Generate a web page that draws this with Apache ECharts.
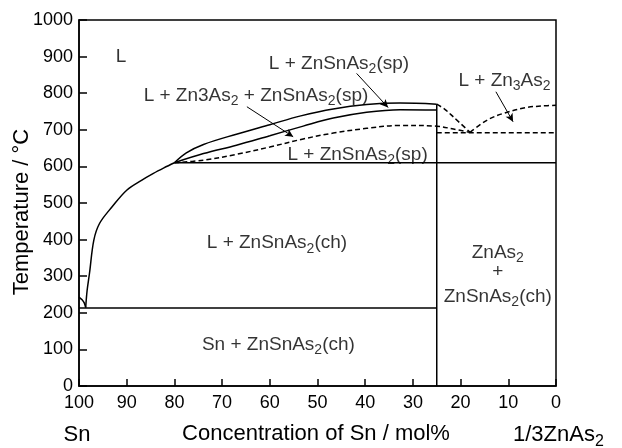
<!DOCTYPE html>
<html>
<head>
    <meta charset="utf-8">
    <title>Sn - 1/3ZnAs2 phase diagram</title>
    <script src="https://cdnjs.cloudflare.com/ajax/libs/echarts/6.0.0/echarts.min.js"></script>
    <style>
        body { margin: 0; background: #fff; }
        #chart_div { width: 622px; height: 448px; }
    </style>
</head>
<body>
    <div id="chart_div"></div>

    <script>
        // phase boundaries, [Sn mol%, temperature °C]
        const snArc = [[100, 243], [99.4, 236], [98.9, 227], [98.6, 214]];
        const liquidus = [[98.6, 214], [98.3, 261], [97.8, 308], [96.9, 398], [95.7, 444], [93.1, 489],
            [90, 535], [86.9, 562], [84.4, 581], [82.2, 596], [80, 610]];
        const upperCurve = [[80, 610], [77.5, 637], [73.9, 660], [67, 688], [60, 714], [53.5, 738],
            [46.7, 757], [39.7, 769], [32.7, 773], [25, 770]];
        const middleCurve = [[80, 610], [73.9, 635], [67, 658], [60, 684], [53, 710], [46.7, 732],
            [39.7, 748], [32.7, 755], [25, 754]];
        const lowerDashed = [[80, 610], [73.9, 617], [67, 633], [60, 653], [53, 675], [46.7, 691],
            [39.7, 704], [32.7, 712], [25, 710], [21.5, 702], [18, 693]];
        const zn3As2Left = [[25, 770], [23.3, 756], [21.5, 735], [18, 693]];
        const zn3As2Right = [[18, 693], [14.5, 726], [11, 745], [6.2, 761], [3, 765], [0, 767]];
        const dashed692 = [[25, 692], [0, 692]];
        const line610 = [[80, 610], [0, 610]];
        const eutectic213 = [[100, 213], [25, 213]];
        const compoundLine = [[25, 0], [25, 770]];

        // phase field labels: [Sn mol%, temperature, text]
        const phaseLabels = [
            [91.2, 899, '{m|L}'],
            [45.5, 880, '{m|L + ZnSnAs}{s|2}{m|(sp)}'],
            [62.9, 792, '{m|L + Zn3As}{s|2}{m| + ZnSnAs}{s|2}{m|(sp)}'],
            [10.8, 833, '{m|L + Zn}{s|3}{m|As}{s|2}'],
            [41.6, 633, '{m|L + ZnSnAs}{s|2}{m|(sp)}'],
            [58.5, 390, '{m|L + ZnSnAs}{s|2}{m|(ch)}'],
            [58.2, 114, '{m|Sn + ZnSnAs}{s|2}{m|(ch)}'],
            [12.2, 365, '{m|ZnAs}{s|2}'],
            [12.2, 311, '{m|+}'],
            [12.2, 245, '{m|ZnSnAs}{s|2}{m|(ch)}']
        ];
        // arrows from label to field
        const arrows = [
            [[41.8, 854], [35.2, 761]],
            [[64.8, 763], [55.1, 681]],
            [[12.6, 804], [9.0, 722]]
        ];

        const font = '"Liberation Sans", Arial, sans-serif';
        const richText = {
            m: { fontSize: 19, fontFamily: font, color: '#000' },
            s: { fontSize: 14, fontFamily: font, color: '#000', padding: [11, 0, 0, 0] }
        };

        function boundary(data, dashed, smooth) {
            return {
                type: 'line',
                data: data,
                showSymbol: false,
                symbol: 'none',
                smooth: smooth ? 0.35 : false,
                silent: true,
                lineStyle: { color: '#000', width: 1.5, type: dashed ? [5, 3] : 'solid' }
            };
        }

        const myChart = echarts.init(document.getElementById('chart_div'));

        const option = {
            animation: false,
            grid: {
                left: 79, right: 66, top: 20, bottom: 62,
                show: true, borderColor: '#000', borderWidth: 1.5
            },
            xAxis: {
                type: 'value',
                min: 0, max: 100, interval: 10,
                inverse: true,
                splitLine: { show: false },
                axisLine: { onZero: false, lineStyle: { color: '#000', width: 1.5 } },
                axisTick: { inside: true, length: 7, lineStyle: { color: '#000', width: 1.5 } },
                axisLabel: { color: '#000', fontSize: 18, fontFamily: font, margin: 8 }
            },
            yAxis: {
                type: 'value',
                min: 0, max: 1000, interval: 100,
                splitLine: { show: false },
                axisLine: { onZero: false, lineStyle: { color: '#000', width: 1.5 } },
                axisTick: { inside: true, length: 8, lineStyle: { color: '#000', width: 1.5 } },
                axisLabel: { color: '#000', fontSize: 18, fontFamily: font, margin: 6,
                    formatter: v => String(v) }
            },
            graphic: [
                {
                    type: 'text', x: 22, y: 212, rotation: Math.PI / 2,
                    style: { text: 'Temperature / °C', fontSize: 22, fontFamily: font, fill: '#000',
                        align: 'center', verticalAlign: 'middle' }
                },
                {
                    type: 'text', x: 77, y: 435,
                    style: { text: 'Sn', fontSize: 22, fontFamily: font, fill: '#000',
                        align: 'center', verticalAlign: 'middle' }
                },
                {
                    type: 'text', x: 316, y: 434,
                    style: { text: 'Concentration of Sn / mol%', fontSize: 22, fontFamily: font, fill: '#000',
                        align: 'center', verticalAlign: 'middle' }
                },
                {
                    type: 'text', x: 513, y: 435,
                    style: {
                        text: '{m|1/3ZnAs}{s|2}', align: 'left', verticalAlign: 'middle',
                        rich: {
                            m: { fontSize: 22, fontFamily: font, fill: '#000' },
                            s: { fontSize: 16, fontFamily: font, fill: '#000', padding: [13, 0, 0, 0] }
                        }
                    }
                }
            ],
            series: [
                boundary(snArc, false, true),
                boundary(liquidus, false, true),
                boundary(upperCurve, false, true),
                boundary(middleCurve, false, true),
                boundary(lowerDashed, true, true),
                boundary(zn3As2Left, true, true),
                boundary(zn3As2Right, true, true),
                boundary(dashed692, true, false),
                boundary(line610, false, false),
                boundary(eutectic213, false, false),
                boundary(compoundLine, false, false),
                {
                    type: 'scatter',
                    symbolSize: 0,
                    silent: true,
                    data: phaseLabels.map(p => ({ value: [p[0], p[1]], name: p[2] })),
                    label: {
                        show: true,
                        position: 'inside',
                        formatter: p => p.name,
                        rich: richText
                    },
                    markLine: {
                        silent: true,
                        symbol: ['none', 'arrow'],
                        symbolSize: [6, 8],
                        label: { show: false },
                        lineStyle: { color: '#000', width: 1, type: 'solid' },
                        data: arrows.map(a => [{ coord: a[0] }, { coord: a[1] }])
                    }
                }
            ]
        };

        myChart.setOption(option);
    </script>
</body>
</html>
